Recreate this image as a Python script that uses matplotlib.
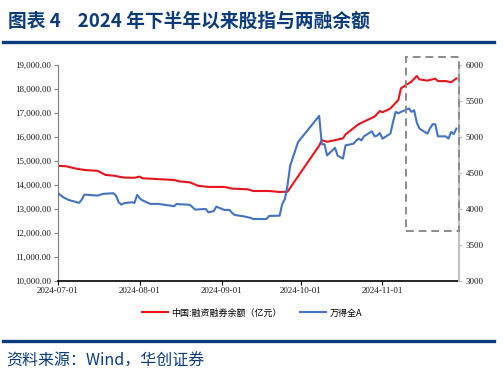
import matplotlib
matplotlib.use("Agg")
import matplotlib.pyplot as plt
import matplotlib.dates as mdates
from matplotlib.patches import Rectangle
from matplotlib.ticker import FuncFormatter, MultipleLocator
import pandas as pd

plt.rcParams['font.family'] = ['Noto Sans CJK SC', 'DejaVu Sans']

# 中国:融资融券余额（亿元）
margin_dates = ['2024-07-01', '2024-07-04', '2024-07-08', '2024-07-11', '2024-07-16',
                '2024-07-19', '2024-07-22', '2024-07-26', '2024-07-30', '2024-08-01',
                '2024-08-02', '2024-08-07', '2024-08-12', '2024-08-14', '2024-08-16',
                '2024-08-20', '2024-08-23', '2024-08-27', '2024-09-02', '2024-09-05',
                '2024-09-11', '2024-09-13', '2024-09-19', '2024-09-23', '2024-09-26',
                '2024-10-08', '2024-10-09', '2024-10-11', '2024-10-17', '2024-10-18',
                '2024-10-23', '2024-10-29', '2024-10-31', '2024-11-01', '2024-11-04',
                '2024-11-07', '2024-11-08', '2024-11-12', '2024-11-14', '2024-11-15',
                '2024-11-18', '2024-11-21', '2024-11-22', '2024-11-25', '2024-11-27',
                '2024-11-29']
margin_values = [14800, 14780, 14680, 14625, 14590,
                 14420, 14390, 14310, 14300, 14350,
                 14280, 14250, 14220, 14210, 14150,
                 14110, 13970, 13920, 13920, 13850,
                 13820, 13750, 13750, 13710, 13720,
                 15640, 15870, 15800, 15940, 16110,
                 16540, 16850, 17080, 17030, 17190,
                 17540, 18030, 18310, 18540, 18400,
                 18350, 18430, 18330, 18330, 18280,
                 18440]

# 万得全A
index_dates = ['2024-07-01', '2024-07-03', '2024-07-05', '2024-07-09', '2024-07-10',
               '2024-07-11', '2024-07-16', '2024-07-18', '2024-07-22', '2024-07-23',
               '2024-07-24', '2024-07-25', '2024-07-26', '2024-07-29', '2024-07-30',
               '2024-07-31', '2024-08-01', '2024-08-02', '2024-08-05', '2024-08-08',
               '2024-08-12', '2024-08-14', '2024-08-15', '2024-08-16', '2024-08-19',
               '2024-08-20', '2024-08-22', '2024-08-26', '2024-08-27', '2024-08-29',
               '2024-08-30', '2024-09-02', '2024-09-04', '2024-09-05', '2024-09-06',
               '2024-09-09', '2024-09-10', '2024-09-12', '2024-09-13', '2024-09-18',
               '2024-09-19', '2024-09-20', '2024-09-23', '2024-09-24', '2024-09-25',
               '2024-09-26', '2024-09-27', '2024-09-30', '2024-10-08', '2024-10-09',
               '2024-10-10', '2024-10-11', '2024-10-14', '2024-10-15', '2024-10-16',
               '2024-10-17', '2024-10-18', '2024-10-21', '2024-10-22', '2024-10-23',
               '2024-10-24', '2024-10-25', '2024-10-28', '2024-10-29', '2024-10-30',
               '2024-10-31', '2024-11-01', '2024-11-04', '2024-11-05', '2024-11-06',
               '2024-11-07', '2024-11-08', '2024-11-11', '2024-11-12', '2024-11-13',
               '2024-11-14', '2024-11-15', '2024-11-18', '2024-11-19', '2024-11-20',
               '2024-11-21', '2024-11-22', '2024-11-25', '2024-11-26', '2024-11-27',
               '2024-11-28', '2024-11-29']
index_values = [4220, 4163, 4126, 4085, 4131,
                4200, 4186, 4210, 4219, 4186,
                4094, 4061, 4080, 4094, 4085,
                4196, 4149, 4120, 4071, 4071,
                4050, 4038, 4071, 4066, 4061,
                4057, 3991, 4001, 3954, 3970,
                4033, 3987, 3987, 3945, 3917,
                3900, 3894, 3875, 3861, 3861,
                3903, 3905, 3907, 4070, 4140,
                4330, 4600, 4930, 5293, 4900,
                4900, 4744, 4850, 4740, 4720,
                4700, 4884, 4907, 4950, 4977,
                4954, 5010, 5079, 5009, 5020,
                5056, 4977, 5047, 5210, 5349,
                5330, 5349, 5396, 5349, 5372,
                5200, 5117, 5047, 5120, 5177,
                5177, 5009, 5009, 4977, 5070,
                5040, 5117]

month_ticks = ['2024-07-01', '2024-08-01', '2024-09-01', '2024-10-01', '2024-11-01']

navy = '#0B3B7C'
red = '#E8141C'
blue = '#4472C4'

fig = plt.figure(figsize=(5.04, 3.84), dpi=100)
ax = fig.add_axes([58 / 504, 1 - 281 / 384, 401 / 504, 216 / 384])
ax2 = ax.twinx()

l1, = ax.plot(pd.to_datetime(margin_dates), margin_values, color=red, lw=1.5,
              label='中国:融资融券余额（亿元）')
l2, = ax2.plot(pd.to_datetime(index_dates), index_values, color=blue, lw=1.5,
               label='万得全A')

ax.set_xlim(pd.Timestamp('2024-07-01'), pd.Timestamp('2024-11-30'))
ax.set_ylim(10000, 19000)
ax2.set_ylim(3000, 6000)
ax.yaxis.set_major_locator(MultipleLocator(1000))
ax2.yaxis.set_major_locator(MultipleLocator(500))
ax.yaxis.set_major_formatter(FuncFormatter(lambda v, p: f'{v:,.2f}'))
ax.set_xticks(pd.to_datetime(month_ticks))
ax.xaxis.set_major_formatter(mdates.DateFormatter('%Y-%m-%d'))

for lab in ax.get_xticklabels() + ax.get_yticklabels() + ax2.get_yticklabels():
    lab.set_fontfamily('Liberation Serif')
    lab.set_fontsize(6.5)
    lab.set_color('#1a1a1a')

for a in (ax, ax2):
    a.spines['top'].set_visible(False)
ax.spines['right'].set_visible(False)
ax.spines['left'].set_color('#7f7f7f')
ax.spines['bottom'].set_color('black')
ax.spines['bottom'].set_linewidth(1.2)
ax2.spines['left'].set_visible(False)
ax2.spines['bottom'].set_visible(False)
ax2.spines['right'].set_color('#c0c0c0')
ax2.spines['right'].set_linewidth(1.5)
ax.tick_params(axis='y', length=3, width=0.8, color='#7f7f7f', pad=2)
ax.tick_params(axis='x', length=3, width=0.8, color='black', pad=1)
ax2.tick_params(axis='y', length=2, width=0.8, color='#c0c0c0', pad=3)

# highlight box
x0 = mdates.date2num(pd.Timestamp('2024-11-10'))
x1 = mdates.date2num(pd.Timestamp('2024-11-30'))
box = Rectangle((x0, 3690), x1 - x0, 2420, transform=ax2.transData, fill=False,
                edgecolor='#8c8c8c', lw=1.4, ls=(0, (4, 2.5)), clip_on=False, zorder=5)
ax2.add_patch(box)

leg = fig.legend(handles=[l1, l2], loc='center', bbox_to_anchor=(0.5, 1 - 313 / 384),
                 ncol=2, frameon=False, fontsize=6.5, handlelength=2.9,
                 columnspacing=2.0, handletextpad=0.4)

fig.text(8 / 504, 1 - 21 / 384, '图表 4    2024 年下半年以来股指与两融余额',
         fontsize=13.5, fontweight='bold', color=navy, va='center', ha='left')
fig.add_artist(plt.Line2D([3 / 504, 494 / 504], [1 - 42 / 384, 1 - 42 / 384],
                          color=navy, lw=2.4, transform=fig.transFigure))
fig.add_artist(plt.Line2D([3 / 504, 494 / 504], [1 - 341 / 384, 1 - 341 / 384],
                          color=navy, lw=2.4, transform=fig.transFigure))
fig.text(6 / 504, 1 - 361 / 384, '资料来源：Wind，华创证券', fontsize=11.5,
         color=navy, va='center', ha='left', fontstyle='italic')

fig.savefig('out.png', dpi=100)
